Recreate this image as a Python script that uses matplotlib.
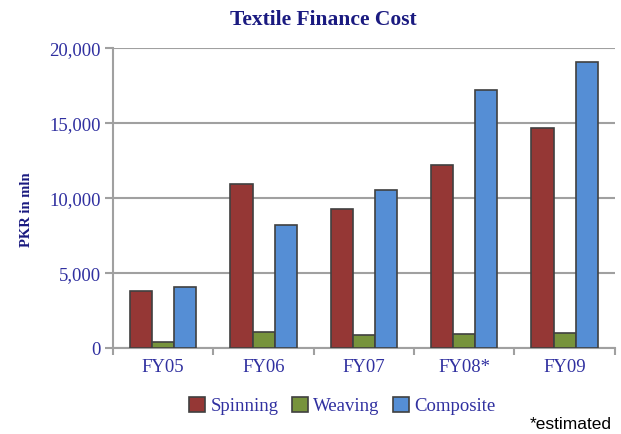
import numpy as np
import matplotlib.pyplot as plt

years = ["FY05", "FY06", "FY07", "FY08*", "FY09"]
spinning = [3800, 10950, 9270, 12230, 14670]
weaving = [400, 1070, 870, 930, 1000]
composite = [4070, 8200, 10530, 17230, 19070]

navy = "#1a1a80"
tickcol = "#3030a0"
grey = "#a0a0a0"

plt.rcParams["font.family"] = ["Liberation Serif", "DejaVu Serif"]

fig = plt.figure(figsize=(6.21, 4.34), dpi=100)
ax = fig.add_axes([0.182, 0.198, 0.808, 0.691])

x = np.arange(len(years))
w = 0.22
ax.bar(x - w, spinning, w, color="#953735", edgecolor="#404040", linewidth=1.2, label="Spinning", zorder=3)
ax.bar(x, weaving, w, color="#77933C", edgecolor="#404040", linewidth=1.2, label="Weaving", zorder=3)
ax.bar(x + w, composite, w, color="#558ED5", edgecolor="#404040", linewidth=1.2, label="Composite", zorder=3)

ax.set_xlim(-0.5, len(years) - 0.5)
ax.set_ylim(0, 20000)
ax.set_yticks([0, 5000, 10000, 15000, 20000])
ax.set_yticklabels(["0", "5,000", "10,000", "15,000", "20,000"])
ax.set_xticks(x)
ax.set_xticklabels(years)
ax.set_xticks(np.arange(len(years) + 1) - 0.5, minor=True)
ax.tick_params(axis="x", which="major", length=0, pad=8, labelsize=13.5, labelcolor=tickcol)
ax.tick_params(axis="x", which="minor", length=5, color=grey, width=1.5)
ax.tick_params(axis="y", length=6, color=grey, width=1.5, labelsize=13.5, labelcolor=tickcol, pad=3)

ax.grid(axis="y", color=grey, linewidth=1.5, zorder=0)
for s in ["top", "right"]:
    ax.spines[s].set_visible(False)
for s in ["left", "bottom"]:
    ax.spines[s].set_color(grey)
    ax.spines[s].set_linewidth(1.5)

ax.set_ylabel("PKR in mln", fontsize=10.5, fontweight="bold", color=navy)
ax.yaxis.set_label_coords(-0.159, 0.46)
fig.text(0.52, 0.953, "Textile Finance Cost", ha="center", va="center",
         fontsize=15.5, fontweight="bold", color=navy)

leg = fig.legend(loc="center", bbox_to_anchor=(0.551, 0.065), ncol=3, frameon=False,
                 fontsize=13.5, handlelength=0.85, handleheight=0.85, columnspacing=0.7,
                 handletextpad=0.3)
for t in leg.get_texts():
    t.set_color(tickcol)

fig.text(0.985, 0.005, "*estimated", ha="right", va="bottom", fontsize=12.5,
         family="Liberation Sans", color="black")

fig.savefig("out.png", dpi=100)
